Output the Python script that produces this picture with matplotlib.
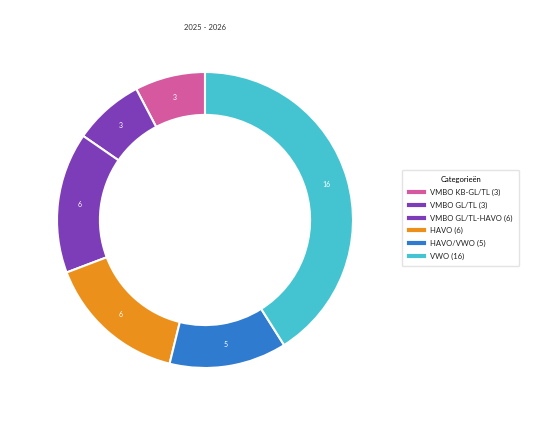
import matplotlib.pyplot as plt
from matplotlib.lines import Line2D
import numpy as np

plt.rcParams['font.family'] = ['Lato', 'DejaVu Sans']

# data
categories = ['VMBO KB-GL/TL', 'VMBO GL/TL', 'VMBO GL/TL-HAVO', 'HAVO', 'HAVO/VWO', 'VWO']
counts = [3, 3, 6, 6, 5, 16]
colors = ['#d6589f', '#7d3cb8', '#7d3cb8', '#ec901c', '#2f7bd0', '#44c4d0']
title = '2025 - 2026'

fig = plt.figure(figsize=(5.53, 4.22), dpi=100)
ax = fig.add_axes([57/553, 54/422, 296/553, 296/422])

wedges, texts = ax.pie(counts, colors=colors, startangle=90, counterclock=True,
                       radius=1.0,
                       wedgeprops=dict(width=0.29, edgecolor='white', linewidth=1.5))

# value labels inside the ring
for w, c in zip(wedges, counts):
    ang = np.deg2rad((w.theta1 + w.theta2) / 2)
    r = 0.855
    ax.text(r*np.cos(ang), r*np.sin(ang), str(c), ha='center', va='center',
            color='white', fontsize=5)

ax.set_aspect('equal')
ax.set_xlim(-1, 1)
ax.set_ylim(-1, 1)

fig.text(205/553, 1 - 27/422, title, ha='center', va='center', fontsize=5.5, color='#333333')

handles = [Line2D([0], [0], color=c, lw=3) for c in colors]
labels = ['{} ({})'.format(cat, n) for cat, n in zip(categories, counts)]
leg = fig.legend(handles, labels, title='Categorieën', loc='center left',
                 bbox_to_anchor=(398/553, 1 - 218/422), fontsize=5.5,
                 title_fontsize=5.5, frameon=True, handlelength=2.0,
                 borderpad=0.9, labelspacing=0.72)
leg.get_frame().set_edgecolor('#dddddd')
for t in leg.get_texts():
    t.set_color('#222222')

plt.savefig('out.png', dpi=100)
plt.close()
